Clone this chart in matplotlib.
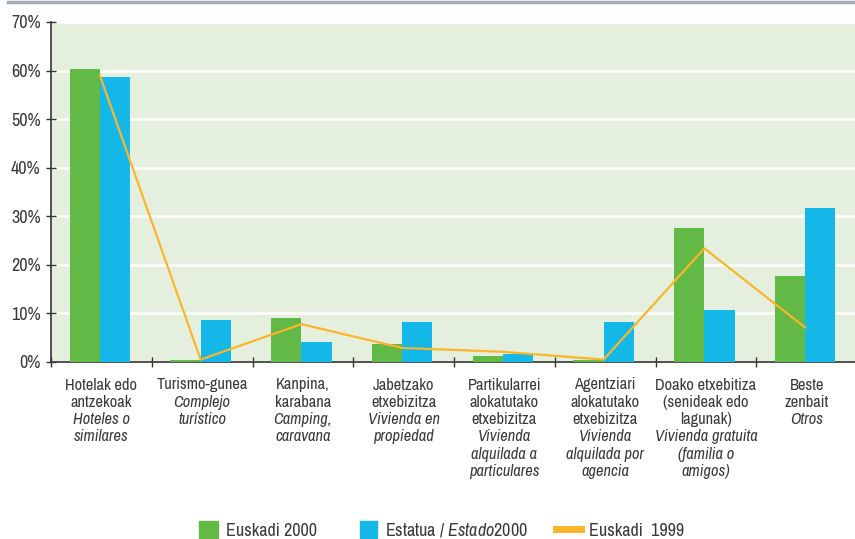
import matplotlib
matplotlib.use("Agg")
import matplotlib.pyplot as plt
from matplotlib.lines import Line2D
from matplotlib.patches import Patch

FONT = ['Archivo Narrow', 'DejaVu Sans']
plt.rcParams['font.family'] = FONT
plt.rcParams['mathtext.fontset'] = 'custom'
plt.rcParams['mathtext.it'] = 'Archivo Narrow:italic'
plt.rcParams['mathtext.rm'] = 'Archivo Narrow'

# datos (%)
euskadi_2000 = [60.3, 0.4, 9.1, 3.7, 1.2, 0.4, 27.6, 17.7]
estado_2000 = [58.7, 8.7, 4.1, 8.2, 1.6, 8.2, 10.7, 31.7]
euskadi_1999 = [59.0, 0.5, 7.8, 2.9, 2.1, 0.5, 23.4, 7.1]

# etiquetas: lineas en euskera y lineas en castellano (cursiva)
labels_eu = [["Hotelak edo", "antzekoak"],
             ["Turismo-gunea"],
             ["Kanpina,", "karabana"],
             ["Jabetzako", "etxebizitza"],
             ["Partikularrei", "alokatutako", "etxebizitza"],
             ["Agentziari", "alokatutako", "etxebizitza"],
             ["Doako etxebitiza", "(senideak edo", "lagunak)"],
             ["Beste", "zenbait"]]
labels_es = [["Hoteles o", "similares"],
             ["Complejo", "turístico"],
             ["Camping,", "caravana"],
             ["Vivienda en", "propiedad"],
             ["Vivienda", "alquilada a", "particulares"],
             ["Vivienda", "alquilada por", "agencia"],
             ["Vivienda gratuita", "(familia o", "amigos)"],
             ["Otros"]]
yticks = [0, 10, 20, 30, 40, 50, 60, 70]
legend_names = ["Euskadi 2000", "Estatua / $\\mathit{Estado}$2000", "Euskadi  1999"]

GREEN = '#62b946'
BLUE = '#14b8e8'
ORANGE = '#fbb52a'
BG = '#e4efdd'
TXT = '#3a3a3a'

fig = plt.figure(figsize=(8.55, 5.39), dpi=100)
ax = fig.add_axes([51/855, 1 - 362/539, 806/855, 340/539])
ax.set_facecolor(BG)

x = list(range(len(euskadi_2000)))
w = 0.3
ax.bar([i - 0.165 for i in x], euskadi_2000, w, color=GREEN, zorder=3)
ax.bar([i + 0.135 for i in x], estado_2000, w, color=BLUE, zorder=3)
ax.plot([i - 0.015 for i in x], euskadi_1999, color=ORANGE, lw=1.6, zorder=4)

ax.set_ylim(0, 70)
ax.set_xlim(-0.5, len(x) - 0.5)
ax.set_yticks(yticks)
ax.set_yticklabels([f"{v}%" for v in yticks], fontsize=13, color=TXT)
ax.yaxis.grid(True, color='white', lw=1.8, zorder=1)
ax.set_axisbelow(True)

ax.set_xticks([i - 0.5 for i in range(len(x) + 1)])
ax.set_xticklabels([])
ax.tick_params(axis='x', direction='inout', length=7, width=1, color='#333333')
ax.tick_params(axis='y', direction='inout', length=7, width=1, color='#333333', pad=4)

for s in ['top', 'right']:
    ax.spines[s].set_visible(False)
for s in ['left', 'bottom']:
    ax.spines[s].set_color('#333333')
    ax.spines[s].set_linewidth(1.2)

line_h = 17.3
for i in x:
    lines = [(t, 'normal') for t in labels_eu[i]] + [(t, 'italic') for t in labels_es[i]]
    for k, (t, st) in enumerate(lines):
        ax.annotate(t, xy=(i, 0), xycoords=('data', 'axes fraction'),
                    xytext=(0, -23 - line_h * k), textcoords='offset pixels',
                    ha='center', va='center', fontsize=11.8, color=TXT, style=st)

handles = [Patch(color=GREEN), Patch(color=BLUE),
           Line2D([], [], color=ORANGE, lw=5)]
leg_x = [199, 360, 556]
hlen = [1.05, 0.95, 1.4]
for h, n, lx, hl in zip(handles, legend_names, leg_x, hlen):
    leg = fig.legend([h], [n], loc='center left', bbox_to_anchor=(lx/855, 1 - 530/539),
                     frameon=False, fontsize=13, handlelength=hl, handleheight=1.05,
                     handletextpad=0.45, borderpad=0, borderaxespad=0)
    leg.get_texts()[0].set_color(TXT)

fig.add_artist(Line2D([8/855, 1], [1 - 1.5/539, 1 - 1.5/539], color='#a6adb4', lw=2.5))

fig.savefig("out.png", dpi=100)
